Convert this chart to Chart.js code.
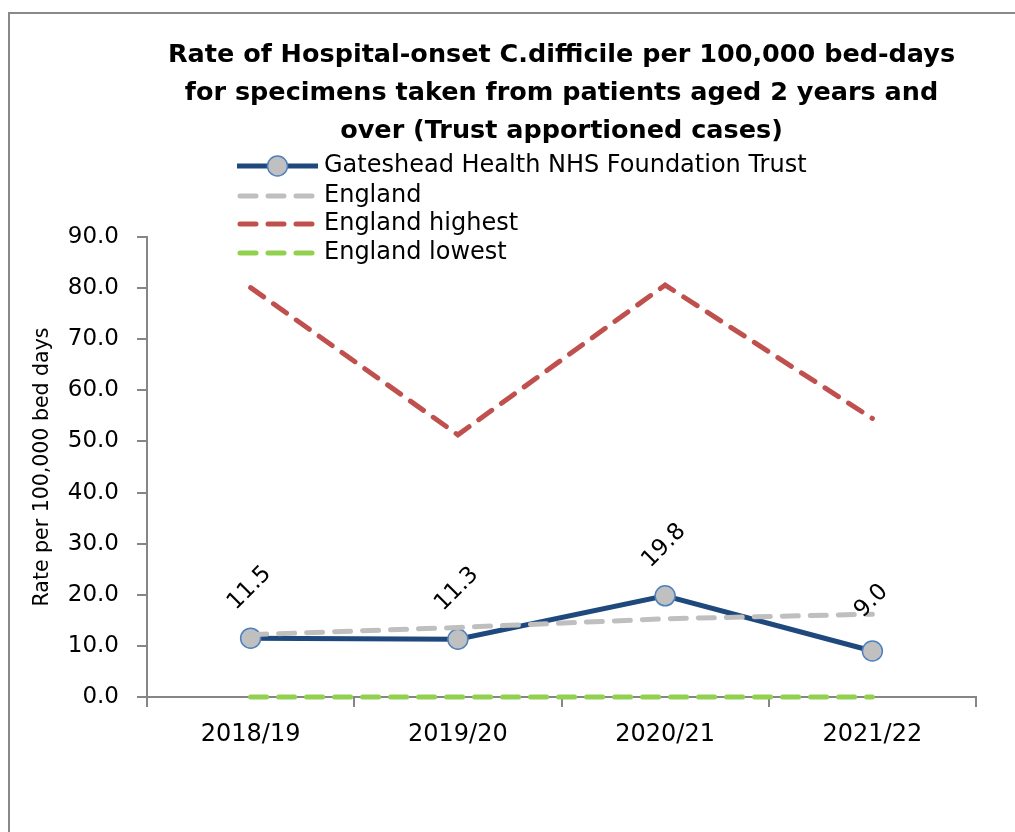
<!DOCTYPE html>
<html><head><meta charset="utf-8">
<script src="https://cdn.jsdelivr.net/npm/chart.js@4.4.1/dist/chart.umd.min.js"></script>
<style>
html,body{margin:0;padding:0;background:#fff;}
#wrap{position:relative;width:1015px;height:832px;overflow:hidden;background:#fff;}
#frame{position:absolute;left:8px;top:12px;width:1100px;height:900px;border-top:2px solid #898989;border-left:2px solid #898989;}
canvas{position:absolute;left:0;top:0;}
</style></head><body>
<div id="wrap"><div id="frame"></div><canvas id="c" width="1015" height="832"></canvas></div>
<script>
const categories = ['2018/19', '2019/20', '2020/21', '2021/22'];
const gateshead = [11.5, 11.3, 19.8, 9.0];
const england = [12.2, 13.6, 15.3, 16.2];
const englandHighest = [80.1, 51.3, 80.6, 54.5];
const englandLowest = [0, 0, 0, 0];
const seriesNames = ['Gateshead Health NHS Foundation Trust', 'England', 'England highest', 'England lowest'];
const yTickValues = [0, 10, 20, 30, 40, 50, 60, 70, 80, 90];
const titleLines = ['Rate of Hospital-onset C.difficile per 100,000 bed-days', 'for specimens taken from patients aged 2 years and', 'over (Trust apportioned cases)'];
const yAxisTitle = 'Rate per 100,000 bed days';

Chart.defaults.font.family = "'DejaVu Sans', sans-serif";
Chart.defaults.color = '#000';

const dashStyle = [16, 12];

const labelPlugin = {
  id: 'valueLabels',
  afterDatasetsDraw(chart) {
    const ctx = chart.ctx;
    const meta = chart.getDatasetMeta(0);
    ctx.save();
    ctx.font = "23px 'DejaVu Sans'";
    ctx.fillStyle = '#000';
    ctx.textAlign = 'center';
    ctx.textBaseline = 'middle';
    meta.data.forEach((pt, i) => {
      ctx.save();
      ctx.translate(pt.x - 1, pt.y - 50);
      ctx.rotate(-Math.PI / 4);
      ctx.fillText(gateshead[i].toFixed(1), 0, 0);
      ctx.restore();
    });
    ctx.restore();
  }
};

const legendPlugin = {
  id: 'customLegend',
  afterDraw(chart) {
    const ctx = chart.ctx;
    const x0 = 240, x1 = 315, tx = 324;
    const rows = [166, 196, 224, 253];
    ctx.save();
    chart.data.datasets.forEach((ds, i) => {
      const y = rows[i];
      ctx.save();
      ctx.strokeStyle = ds.borderColor;
      ctx.lineWidth = ds.borderWidth;
      ctx.lineCap = ds.borderDash && ds.borderDash.length ? 'round' : 'butt';
      ctx.setLineDash(ds.borderDash || []);
      ctx.beginPath();
      ctx.moveTo(i === 0 ? 237 : x0, y);
      ctx.lineTo(i === 0 ? 318 : x1, y);
      ctx.stroke();
      if (ds.pointRadius > 0) {
        ctx.setLineDash([]);
        ctx.beginPath();
        ctx.arc((237 + 318) / 2, y, ds.pointRadius, 0, Math.PI * 2);
        ctx.fillStyle = ds.pointBackgroundColor;
        ctx.fill();
        ctx.lineWidth = ds.pointBorderWidth;
        ctx.strokeStyle = ds.pointBorderColor;
        ctx.stroke();
      }
      ctx.restore();
      ctx.font = "24px 'DejaVu Sans'";
      ctx.fillStyle = '#000';
      ctx.textAlign = 'left';
      ctx.textBaseline = 'middle';
      ctx.fillText(ds.label, tx, y);
    });
    ctx.restore();
  }
};

new Chart(document.getElementById('c'), {
  type: 'line',
  data: {
    labels: categories,
    datasets: [
      { label: seriesNames[0], data: gateshead, borderColor: '#1F497D', borderWidth: 5,
        pointRadius: 10, pointBackgroundColor: '#C0C0C0', pointBorderColor: '#4F81BD', pointBorderWidth: 1.5,
        tension: 0, order: 2, clip: false },
      { label: seriesNames[1], data: england, borderColor: '#BFBFBF', borderWidth: 5, borderDash: dashStyle,
        borderCapStyle: 'round', pointRadius: 0, tension: 0, order: 1, clip: false },
      { label: seriesNames[2], data: englandHighest, borderColor: '#C0504D', borderWidth: 5, borderDash: dashStyle,
        borderCapStyle: 'round', pointRadius: 0, tension: 0, order: 3, clip: false },
      { label: seriesNames[3], data: englandLowest, borderColor: '#92D050', borderWidth: 5, borderDash: dashStyle,
        borderCapStyle: 'round', pointRadius: 0, tension: 0, order: 0, clip: false }
    ]
  },
  options: {
    responsive: false,
    animation: false,
    events: [],
    layout: { padding: { left: 0, right: 39, top: 0, bottom: 0 } },
    plugins: {
      legend: { display: false },
      tooltip: { enabled: false },
      title: {
        display: true, fullSize: false, text: titleLines, color: '#000',
        font: { size: 25.5, weight: 'bold', lineHeight: 38 / 25.5 },
        padding: { top: 36, bottom: 87 }
      }
    },
    scales: {
      x: {
        offset: true,
        grid: { offset: true, drawOnChartArea: false, drawTicks: true, tickLength: 10, color: '#868686', lineWidth: 2 },
        border: { display: true, color: '#868686', width: 2 },
        ticks: { font: { size: 24 }, color: '#000', padding: 13, maxRotation: 0, autoSkip: false },
        afterFit(s) { s.height = 135; }
      },
      y: {
        min: 0, max: 90,
        afterBuildTicks(s) { s.ticks = yTickValues.map(v => ({ value: v })); },
        grid: { drawOnChartArea: false, drawTicks: true, tickLength: 10, color: '#868686', lineWidth: 2 },
        border: { display: true, color: '#868686', width: 2 },
        ticks: { font: { size: 23 }, color: '#000', padding: 18, callback: v => Number(v).toFixed(1) },
        title: { display: true, text: yAxisTitle, color: '#000', font: { size: 20.5 }, padding: { top: 30, bottom: 0 } },
        afterFit(s) { s.width = 147; }
      }
    }
  },
  plugins: [labelPlugin, legendPlugin]
});
</script>
</body></html>
